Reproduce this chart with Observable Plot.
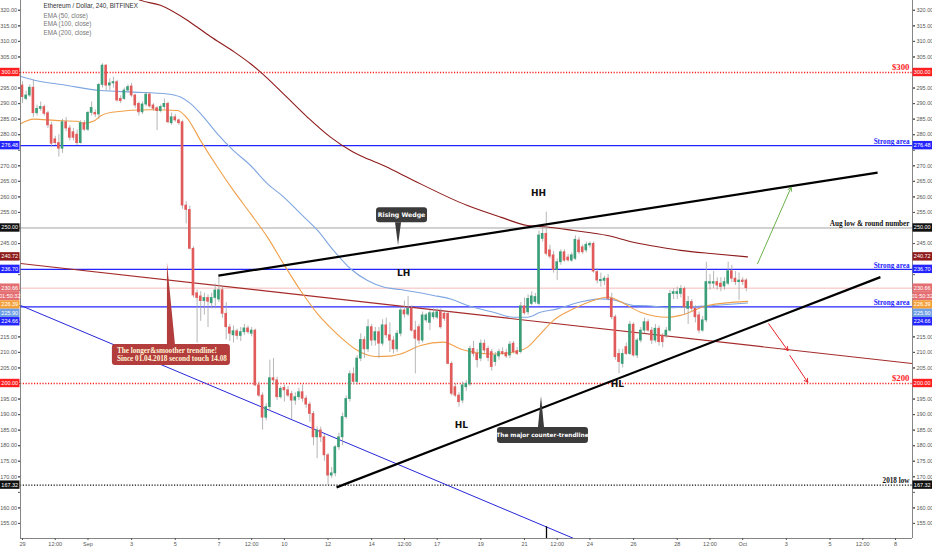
<!DOCTYPE html>
<html><head><meta charset="utf-8">
<script src="https://cdn.jsdelivr.net/npm/d3@7"></script>
<script src="https://cdn.jsdelivr.net/npm/@observablehq/plot@0.6"></script>
<style>
body{margin:0;background:#fff;}
svg{display:block;}
</style></head><body><div id="chart"></div>
<script>
// ---------- DATA ----------
// 4h candles from 2018-08-29 00:00 UTC : [open, high, low, close]
const candles = [
[295.8,297.0,290.0,292.1],[291.5,294.0,291.0,292.6],[292.6,296.0,292.0,295.1],[295.1,297.5,285.6,286.9],
[286.9,289.5,286.0,288.3],[288.3,290.5,287.5,288.9],[288.9,289.5,286.0,286.7],[286.9,287.5,282.0,283.0],
[283.0,284.0,276.0,277.1],[278.5,279.5,276.5,277.3],[277.3,280.0,272.8,275.5],[275.5,285.0,274.0,284.0],
[284.0,285.5,281.0,282.0],[282.0,283.0,278.0,279.0],[280.8,282.0,278.0,279.0],[280.0,281.5,276.5,277.3],
[277.3,284.5,277.0,283.7],[283.7,284.5,281.0,281.6],[281.6,287.5,281.0,287.0],[287.0,290.5,286.0,288.6],
[287.0,288.0,285.5,286.5],[286.5,296.5,285.0,296.0],[296.0,302.8,295.0,302.2],[302.2,302.5,294.0,295.8],
[295.8,298.0,294.0,296.5],[296.5,298.5,295.0,296.9],[296.9,297.5,290.5,291.0],[291.5,292.5,290.0,290.8],
[291.5,295.0,291.0,294.2],[294.2,296.0,293.5,295.3],[295.5,296.5,292.0,292.6],[292.6,293.0,288.5,289.4],
[289.9,290.5,286.0,287.2],[287.2,290.5,286.5,289.7],[289.7,293.5,289.0,292.9],[292.9,293.5,288.5,289.1],
[289.4,290.0,287.5,288.3],[288.5,289.0,281.3,287.6],[287.6,289.5,287.0,288.9],[288.9,291.5,288.0,289.9],
[289.9,290.5,283.5,284.0],[283.7,287.0,283.0,285.6],[285.6,286.5,284.0,284.6],[284.6,285.0,283.0,283.7],
[284.0,284.5,256.0,257.2],[257.2,258.5,251.3,255.8],[255.8,257.0,243.0,243.3],[243.3,244.0,227.5,228.3],
[229.0,230.0,213.0,227.5],[228.0,229.5,220.0,226.5],[226.5,229.0,222.0,227.5],[227.5,228.5,218.0,226.3],
[225.8,229.0,224.0,227.5],[227.5,232.0,224.0,229.9],[227.0,235.0,226.0,230.0],[230.0,231.0,221.0,222.4],
[222.4,226.0,214.0,218.1],[218.0,219.0,213.5,216.0],[215.5,218.5,213.0,216.8],[216.8,217.5,214.0,215.3],
[215.3,218.0,213.5,216.5],[216.5,219.0,215.5,217.7],[217.7,218.5,215.8,216.5],[216.0,218.0,215.0,217.0],
[217.0,217.5,199.0,199.4],[199.4,200.5,195.5,196.1],[196.1,197.0,185.0,189.0],[189.0,193.5,188.0,192.4],
[192.4,207.5,191.0,201.7],[201.7,208.0,199.5,201.0],[201.0,202.0,194.5,195.6],[195.6,199.0,195.0,198.3],
[198.6,199.5,194.0,197.8],[197.8,199.0,195.5,196.1],[196.6,197.5,188.5,194.5],[194.5,197.0,193.0,195.6],
[195.6,198.5,194.5,197.2],[197.2,199.5,194.0,195.1],[195.1,196.0,192.0,193.2],[193.2,194.0,187.5,190.2],
[190.2,191.0,180.0,182.7],[182.7,186.0,175.8,184.9],[184.9,186.0,181.0,182.7],[182.7,183.5,175.0,176.9],
[176.9,177.5,167.3,170.4],[170.4,173.0,169.5,171.1],[171.1,180.0,170.0,179.5],[179.5,184.0,178.5,182.7],
[182.7,190.5,180.0,189.2],[189.2,196.0,188.5,195.0],[195.0,204.0,194.0,203.0],[203.0,205.0,199.5,200.5],
[200.5,209.0,199.5,208.0],[208.0,216.0,207.0,214.0],[214.0,215.0,208.0,211.0],[211.0,220.5,210.0,218.1],
[218.1,219.0,212.0,213.8],[213.8,218.0,212.0,216.5],[216.5,218.0,208.0,212.8],[212.8,220.5,212.0,218.7],
[218.7,221.0,214.5,215.5],[215.5,219.5,210.0,213.8],[213.8,215.0,209.5,211.0],[211.0,217.0,210.0,216.0],
[216.0,224.5,215.0,223.5],[223.5,226.5,221.0,222.2],[222.2,228.0,221.5,224.0],[224.0,225.0,216.5,217.0],
[217.0,220.0,203.1,214.4],[218.1,219.0,212.5,213.8],[213.8,223.0,213.0,221.9],[220.3,222.5,219.5,221.9],
[219.5,223.5,217.0,222.6],[221.3,224.0,220.5,222.6],[221.2,224.0,220.5,222.9],[223.0,224.0,217.5,218.1],
[222.4,223.0,220.0,220.8],[222.4,223.0,206.0,206.3],[206.3,207.0,196.0,196.7],[198.8,200.0,195.5,196.1],
[196.1,197.0,192.4,194.0],[194.5,200.5,193.5,199.4],[198.8,201.0,197.5,199.9],[199.7,212.0,199.0,211.1],
[211.1,213.5,208.5,209.5],[209.5,211.0,205.0,207.5],[208.0,214.0,207.0,212.8],[212.8,214.0,209.5,210.6],
[211.1,212.0,207.0,208.2],[210.1,211.0,204.0,205.3],[206.9,210.0,205.5,209.0],[208.7,211.0,207.5,210.1],
[210.1,211.5,209.0,209.5],[209.8,211.0,208.0,208.7],[209.0,213.5,208.0,212.5],[212.8,213.5,209.5,210.1],
[210.4,211.5,209.0,209.5],[210.1,226.0,209.5,224.8],[224.8,227.5,222.0,222.6],[222.9,228.5,222.0,227.2],
[225.6,229.5,225.0,228.0],[226.2,229.0,225.5,227.8],[225.6,249.0,225.0,247.6],[246.5,250.0,245.5,248.1],
[248.1,255.1,241.0,241.7],[242.8,244.5,240.0,240.8],[241.2,242.5,235.5,236.5],[236.5,240.0,233.1,239.0],
[239.0,243.0,238.0,242.2],[242.2,243.0,239.0,239.5],[240.5,241.5,239.0,239.6],[239.5,242.0,239.0,241.2],
[240.1,247.5,239.5,246.2],[246.0,247.0,241.5,242.2],[243.8,244.5,241.5,242.2],[242.8,245.5,242.0,244.6],
[244.4,245.5,243.5,244.9],[244.9,245.5,235.5,236.0],[235.8,237.0,232.0,233.1],[232.9,235.5,231.0,233.3],
[233.0,234.5,231.5,233.7],[233.7,235.0,226.5,227.2],[227.2,229.0,220.5,221.3],[221.3,222.0,207.5,208.5],
[209.5,211.0,203.1,206.9],[206.3,211.0,205.0,209.5],[211.7,213.0,209.0,209.5],[209.5,220.0,209.0,218.9],
[218.9,219.5,208.5,209.0],[209.0,214.5,208.0,213.8],[213.8,218.0,213.0,217.0],[217.0,221.0,216.0,219.7],
[219.7,220.5,216.5,217.0],[217.0,218.0,212.5,213.8],[213.8,219.0,213.0,217.6],[217.6,218.5,212.0,213.3],
[215.4,216.0,211.5,213.3],[215.4,218.0,214.5,217.0],[217.0,230.0,216.5,228.8],[228.8,230.5,227.0,229.4],
[228.8,231.0,227.0,229.4],[228.8,231.5,227.5,230.4],[230.4,231.0,222.0,224.5],[224.0,228.0,219.0,226.2],
[226.2,227.0,223.0,224.0],[224.0,225.0,219.5,221.3],[221.9,223.0,216.0,217.0],[217.0,221.5,216.5,220.3],
[220.3,239.0,219.5,232.6],[232.1,235.0,230.0,232.6],[232.1,236.0,230.5,232.6],[232.6,234.0,230.0,231.5],
[232.1,234.0,229.5,231.0],[231.2,234.0,230.0,232.6],[232.1,239.0,231.5,236.1],[236.1,238.0,232.5,233.7],
[233.7,236.0,231.5,232.6],[232.6,235.5,226.7,233.1],[233.1,234.0,231.5,232.6],[233.1,233.7,229.5,230.66]
];
// EMA curves: [days since 2018-08-29 00:00, value]
const ema50 = [[-0.09,283.5],[0.5,285.0],[1.5,284.6],[2.5,284.3],[2.8,283.7],[3.3,284.5],[3.57,286.0],[4.1,287.2],
[5.86,288.0],[7.1,287.8],[7.56,285.2],[8.16,278.1],[8.93,269.6],[9.67,262.0],[10.45,254.6],[11.23,247.0],
[11.96,238.5],[12.74,229.9],[13.52,222.4],[14.25,217.0],[14.71,214.0],[15.26,211.0],[16.17,208.7],[16.86,208.8],
[17.32,209.5],[18.24,212.2],[19.29,213.3],[20.07,211.1],[20.66,210.1],[21.58,209.5],[22.5,210.1],[23.14,211.7],
[23.6,214.9],[24.33,220.3],[25.25,224.0],[26.16,226.7],[26.85,227.8],[27.4,226.3],[28.32,222.9],[29.55,221.3],
[30.15,221.9],[31.39,225.1],[33.22,226.39]];
const ema100 = [[-0.09,298.7],[0.5,297.6],[2.06,295.8],[3.57,294.2],[5.09,293.7],[6.64,293.1],[7.24,292.1],[7.7,290.0],
[8.16,286.8],[8.93,280.3],[9.67,274.9],[10.45,270.1],[11.23,264.2],[11.96,260.0],[12.74,254.6],[13.52,249.2],
[14.25,242.8],[15.03,236.9],[15.81,233.1],[16.54,231.0],[17.32,230.2],[18.83,228.3],[19.61,227.2],[20.39,225.1],
[21.58,222.9],[22.5,221.3],[23.14,221.3],[23.73,222.9],[24.51,224.0],[25.57,226.2],[26.48,227.2],[27.08,226.9],
[27.99,225.1],[28.64,225.0],[29.55,224.4],[30.15,224.5],[31.66,225.1],[33.22,225.9]];
const ema200 = [[4.49,326.5],[5.41,323.2],[6.32,321.6],[7.7,316.1],[8.61,311.6],[9.62,307.0],[10.45,302.8],[10.91,300.1],
[11.96,293.1],[13.06,285.6],[14.11,279.2],[15.03,274.9],[15.62,272.8],[16.54,270.1],[17.32,267.4],[17.92,265.3],
[20.39,257.2],[21.9,253.5],[23.14,250.8],[24.05,250.3],[25.25,249.2],[26.8,247.6],[27.99,245.4],[29.23,243.8],
[30.15,242.8],[31.66,241.7],[33.22,240.72]];
// Drawn trendlines: [day1, price1, day2, price2]
const blueTrend   = [-0.09, 225.1, 25.25, 150.2];
const redTrend    = [-0.09, 238.6, 40.78, 206.4];
const wedgeTop    = [8.98, 234.7, 39.18, 267.8];
const wedgeBottom = [14.39, 166.6, 39.31, 234.2];
const greenArrow  = [[33.68, 238.5, 35.22, 263.1]];
const redArrows   = [[34.19, 219.2, 35.07, 210.6],[35.16, 209.0, 35.98, 200.4]];
// Horizontal levels
const levels = [
  {v:300,    color:"#ff1f1f", dash:"1.2,1.6", w:1.3, label:"$300", size:8.8},
  {v:276.48, color:"#2424ff", dash:null, w:1.2, label:"Strong area", size:7.2},
  {v:250,    color:"#9a9a9a", dash:null, w:0.9, label:"Aug low & round number", size:7.2, lc:"#111"},
  {v:236.70, color:"#2424ff", dash:null, w:1.2, label:"Strong area", size:7.2},
  {v:230.66, color:"#f2a8a8", dash:null, w:0.8, label:"", size:7},
  {v:224.66, color:"#2424ff", dash:null, w:1.2, label:"Strong area", size:7.2},
  {v:200,    color:"#ff1f1f", dash:"1.2,1.6", w:1.3, label:"$200", size:8.8},
  {v:167.32, color:"#111111", dash:"1.2,1.6", w:1.3, label:"2018 low", size:7.2}
];
// Price tags on the axes
const tags = [
  {v:300,    text:"300.00", bg:"#ff1f1f"},
  {v:276.48, text:"276.48", bg:"#2424ff"},
  {v:250,    text:"250.00", bg:"#111111"},
  {v:240.72, text:"240.72", bg:"#8e1b1b"},
  {v:236.70, text:"236.70", bg:"#2424ff"},
  {v:230.66, text:"230.66", bg:"#e46f73"},
  {v:230.65, text:"01:50:32", bg:"#e46f73"},
  {v:226.39, text:"226.39", bg:"#f3a03a"},
  {v:225.90, text:"225.90", bg:"#6f9fe4"},
  {v:224.66, text:"224.66", bg:"#2424ff"},
  {v:200,    text:"200.00", bg:"#ff1f1f"},
  {v:167.32, text:"167.32", bg:"#111111"}
];
const waveLabels = [
  {d:23.64, v:261.1, t:"HH"}, {d:17.46, v:235.4, t:"LH"},
  {d:20.11, v:186.5, t:"HL"}, {d:27.26, v:199.7, t:"HL"}
];
const callouts = [
  {d:17.23, v:244.3, lines:["Rising Wedge"], kind:"dark"},
  {d:6.64,  v:238.9, lines:["The longer&smoother trendline!","Since 01.04.2018 second touch 14.08"], kind:"red"},
  {d:23.78, v:195.8, lines:["The major counter-trendline"], kind:"dark2"}
];
const yTicks = d3.range(155, 321, 5);
const xTickDays = [0,1.5,3,5,7,9,10.5,12,14,16,17.5,19,21,23,24.5,26,28,30,31.5,33,35,37,38.5,40];
const xTickLabels = ["29","12:00","Sep","3","5","7","12:00","10","12","14","12:00","17","19","21","12:00","24","26","28","12:00","Oct","3","5","12:00","8"];
const legendTitle = "Ethereum / Dollar, 240, BITFINEX";
const legendItems = ["EMA (50, close)","EMA (100, close)","EMA (200, close)"];

// ---------- BUILD ----------
const START = Date.UTC(2018,7,29), HOUR = 3600e3, DAY = 24*HOUR;
const T = d => new Date(START + d*DAY);
const xDom = [T(-0.0916), T(40.78)];
const yDom = [150.16, 323.15];
const UP = "#3a9f78", DOWN = "#e25b5b";
const rows = candles.map(([o,h,l,c],i)=>({t:START+i*4*HOUR,o,h,l,c,up:c>=o}));
const bodies = rows.map(r=>({x1:new Date(r.t-1.45*HOUR), x2:new Date(r.t+1.45*HOUR),
  y1:Math.min(r.o,r.c), y2:Math.max(r.o,r.c), up:r.up}));
const pts = a => a.map(([d,v])=>({x:T(d),y:v}));
const seg = s => ({x1:T(s[0]),y1:s[1],x2:T(s[2]),y2:s[3]});
const tickMap = new Map(xTickDays.map((d,i)=>[+T(d), xTickLabels[i]]));

// y ticks whose labels sit under a price tag are hidden (the tags cover them)
const H = 550, MB = 12;
const yPix = v => (H-MB) * (yDom[1]-v)/(yDom[1]-yDom[0]);
const tagPos = tags.map(t=>({...t, y:yPix(t.v)})).sort((a,b)=>a.y-b.y);
for (let i=1;i<tagPos.length;i++) if (tagPos[i].y < tagPos[i-1].y + 8.4) tagPos[i].y = tagPos[i-1].y + 8.4;
const yTickLabelled = yTicks.filter(v => !tagPos.some(t => Math.abs(t.y - yPix(v)) < 7.5));

const axisStyle = {tickSize:2, fontSize:5.5, color:"#555"};
const serif = "'Liberation Serif', 'Times New Roman', serif";
const chart = Plot.plot({
  width: 932, height: H,
  marginLeft: 20, marginRight: 20, marginTop: 0, marginBottom: MB,
  style: {fontFamily: "'Liberation Sans', Arial, sans-serif", background: "#fff", overflow: "visible"},
  x: {type: "utc", domain: xDom, axis: null},
  y: {domain: yDom, axis: null},
  marks: [
    // horizontal levels
    ...levels.map(L => Plot.ruleY([L.v], {stroke: L.color, strokeWidth: L.w, strokeDasharray: L.dash})),
    // trendlines
    Plot.link([seg(blueTrend)], {x1:"x1",y1:"y1",x2:"x2",y2:"y2", stroke:"#2727d8", strokeWidth:1, clip:true}),
    Plot.link([seg(redTrend)], {x1:"x1",y1:"y1",x2:"x2",y2:"y2", stroke:"#a52a2a", strokeWidth:1.1, clip:true}),
    // EMAs
    Plot.line(pts(ema200), {x:"x", y:"y", stroke:"#8e1b1b", strokeWidth:1.1, curve:"monotone-x", clip:true}),
    Plot.line(pts(ema100), {x:"x", y:"y", stroke:"#7fa6e0", strokeWidth:1.1, curve:"monotone-x", clip:true}),
    Plot.line(pts(ema50),  {x:"x", y:"y", stroke:"#f0a04a", strokeWidth:1.1, curve:"monotone-x", clip:true}),
    // candles
    Plot.ruleX(rows, {x: d=>new Date(d.t), y1:"l", y2:"h", stroke:"#a3a3a3", strokeWidth:0.8}),
    Plot.rect(bodies, {x1:"x1", x2:"x2", y1:"y1", y2:"y2", fill: d=>d.up?UP:DOWN, insetTop:-0.4, insetBottom:-0.4}),
    // wedge lines
    Plot.link([seg(wedgeTop)], {x1:"x1",y1:"y1",x2:"x2",y2:"y2", stroke:"#000", strokeWidth:2.2}),
    Plot.link([seg(wedgeBottom)], {x1:"x1",y1:"y1",x2:"x2",y2:"y2", stroke:"#000", strokeWidth:2.2}),
    Plot.ruleX([T(24.01)], {y1:150.16, y2:153.9, stroke:"#000", strokeWidth:1.3}),
    // arrows
    Plot.arrow(greenArrow.map(seg), {x1:"x1",y1:"y1",x2:"x2",y2:"y2", stroke:"#6ab04c", strokeWidth:1, headLength:6}),
    Plot.arrow(redArrows.map(seg), {x1:"x1",y1:"y1",x2:"x2",y2:"y2", stroke:"#e8242a", strokeWidth:1, headLength:6}),
    // level labels
    ...levels.filter(L=>L.label).map(L => Plot.text([L.v], {x: xDom[1], y: d=>d, text: [L.label], dx:-3, dy: L.size>8?-5:-4,
       textAnchor:"end", fill: L.lc || L.color, fontSize: L.size, fontWeight:"bold", fontFamily: serif})),
    // wave labels
    Plot.text(waveLabels, {x: d=>T(d.d), y:"v", text:"t", fontSize:9, fontWeight:"bold", fill:"#111", fontFamily:"'DejaVu Sans', sans-serif"}),
    // axes
    Plot.ruleX([xDom[0], xDom[1]], {stroke:"#666", strokeWidth:0.8}),
    Plot.ruleY([yDom[0]], {stroke:"#666", strokeWidth:0.8}),
    Plot.axisY({anchor:"left", ticks:yTicks, tickFormat:null, text:null, ...axisStyle}),
    Plot.axisY({anchor:"right", ticks:yTicks, tickFormat:null, text:null, ...axisStyle}),
    Plot.axisY({anchor:"left", ticks:yTickLabelled, tickFormat:d=>d.toFixed(2), tickPadding:1.5, ...axisStyle}),
    Plot.axisY({anchor:"right", ticks:yTickLabelled, tickFormat:d=>d.toFixed(2), tickPadding:2, ...axisStyle}),
    Plot.axisX({ticks: xTickDays.map(T), tickFormat: d=>tickMap.get(+d), tickPadding:2, ...axisStyle}),
    // legend
    Plot.text([legendTitle], {frameAnchor:"top-left", dx:23, dy:3, text:d=>d, fontSize:6.3, fill:"#333", textAnchor:"start", lineAnchor:"top"}),
    Plot.text([legendItems.join("\n")], {frameAnchor:"top-left", dx:23, dy:11.5, text:d=>d, fontSize:6.3, fill:"#777", textAnchor:"start", lineAnchor:"top", lineHeight:1.32})
  ]
});
document.getElementById("chart").append(chart);

// ---------- overlays drawn with the chart's own scales ----------
const svg = d3.select(chart);
const X = v => chart.scale("x").apply(v), Y = v => chart.scale("y").apply(v);

// callouts
const cg = svg.append("g");
const CO = {
  dark:  {fill:"#3b3b3b", color:"#fff", box:[-22,-38,51,15], base:[-3,3], up:false, font:"'DejaVu Sans', sans-serif", size:6.2},
  red:   {fill:"#b33c3c", color:"#fff4d6", box:[-55,82,118,21], base:[0,8], up:true, font:serif, size:7.2},
  dark2: {fill:"#3b3b3b", color:"#fff", box:[-44,31,91,16], base:[-3,3], up:true, font:"'DejaVu Sans', sans-serif", size:5.8}
};
callouts.forEach(c => {
  const s = CO[c.kind], tx = X(T(c.d)), ty = Y(c.v);
  const [bx,by,bw,bh] = s.box;
  const edge = s.up ? ty+by : ty+by+bh;
  cg.append("path").attr("d", `M${tx+s.base[0]},${edge}L${tx+s.base[1]},${edge}L${tx},${ty}Z`).attr("fill", s.fill);
  cg.append("rect").attr("x",tx+bx).attr("y",ty+by).attr("width",bw).attr("height",bh).attr("rx",3).attr("fill",s.fill);
  const multi = c.lines.length > 1;
  c.lines.forEach((ln,k) => {
    cg.append("text").attr("x", multi ? tx+bx+5 : tx+bx+bw/2).attr("y", ty+by+bh/2 + (k-(c.lines.length-1)/2)*7.6)
      .attr("dy","0.35em").attr("text-anchor", multi?"start":"middle").attr("fill", s.color)
      .attr("font-size", s.size).attr("font-weight","bold").attr("font-family", s.font).text(ln);
  });
});

// axis price tags, stacked to avoid overlap
const tg = svg.append("g").attr("font-family","'Liberation Sans', Arial, sans-serif").attr("font-size",5.5);
const W = 932;
tagPos.forEach(t => {
  [[W-19.5, 19.5],[0, 19.5]].forEach(([x0,w]) => {
    tg.append("rect").attr("x",x0).attr("y",t.y-4.2).attr("width",w).attr("height",8.4).attr("fill",t.bg);
    tg.append("text").attr("x",x0+w/2).attr("y",t.y).attr("dy","0.35em").attr("text-anchor","middle").attr("fill","#fff").text(t.text);
  });
});
</script></body></html>
